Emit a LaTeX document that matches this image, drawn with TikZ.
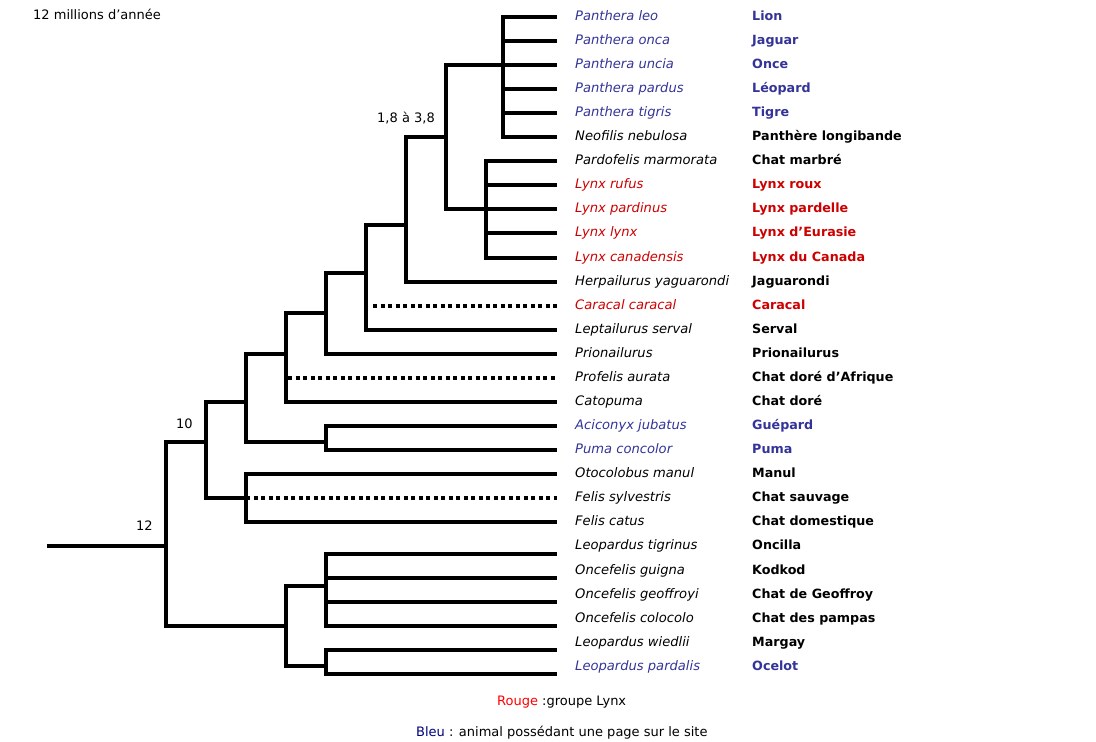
\documentclass[tikz,border=0pt]{standalone}
\usepackage{fontspec}
\setmainfont{DejaVu Sans}
\usepackage{xcolor}
\definecolor{siteblue}{HTML}{333399}
\definecolor{lynxred}{HTML}{CC0000}
\definecolor{legendred}{HTML}{FF0000}
\definecolor{legendblue}{HTML}{000080}

\begin{document}
\begin{tikzpicture}[x=1pt, y=-1pt,
    every node/.style={inner sep=0pt, font=\fontsize{13}{15}\selectfont},
    latin/.style={anchor=base west, font=\fontsize{13.1}{15}\selectfont\itshape},
    common/.style={anchor=base west, font=\fontsize{12.7}{15}\selectfont\bfseries},
    branch/.style={line width=4pt},
    dots/.style={line width=4pt, dash pattern=on 4pt off 3.5pt}]
     \useasboundingbox (0,0) rectangle (1096,742);

     % leaf tips
     \coordinate (t0) at (557,17);
     \coordinate (t1) at (557,41);
     \coordinate (t2) at (557,65);
     \coordinate (t3) at (557,89);
     \coordinate (t4) at (557,113);
     \coordinate (t5) at (557,137);
     \coordinate (t6) at (557,161);
     \coordinate (t7) at (557,185);
     \coordinate (t8) at (557,209);
     \coordinate (t9) at (557,233);
     \coordinate (t10) at (557,257.5);
     \coordinate (t11) at (557,281.5);
     \coordinate (t12) at (557,305.5);
     \coordinate (t13) at (557,329.5);
     \coordinate (t14) at (557,353.5);
     \coordinate (t15) at (557,377.5);
     \coordinate (t16) at (557,402);
     \coordinate (t17) at (557,426);
     \coordinate (t18) at (557,450);
     \coordinate (t19) at (557,474);
     \coordinate (t20) at (557,498);
     \coordinate (t21) at (557,522);
     \coordinate (t22) at (557,554);
     \coordinate (t23) at (557,578);
     \coordinate (t24) at (557,602);
     \coordinate (t25) at (557,626);
     \coordinate (t26) at (557,650);
     \coordinate (t27) at (557,674);

     % latin names
     \node[latin, text=siteblue] (pleo) at (575,20.5) {Panthera leo};
     \node[latin, text=siteblue] (ponca) at (575,44.5) {Panthera onca};
     \node[latin, text=siteblue] (puncia) at (575,68.5) {Panthera uncia};
     \node[latin, text=siteblue] (ppardus) at (575,92.5) {Panthera pardus};
     \node[latin, text=siteblue] (ptigris) at (575,116.5) {Panthera tigris};
     \node[latin] (nnebulosa) at (575,140.5) {Neofilis nebulosa};
     \node[latin] (pmarmorata) at (575,164.5) {Pardofelis marmorata};
     \node[latin, text=lynxred] (lrufus) at (575,188.5) {Lynx rufus};
     \node[latin, text=lynxred] (lpardinus) at (575,212.5) {Lynx pardinus};
     \node[latin, text=lynxred] (llynx) at (575,236.5) {Lynx lynx};
     \node[latin, text=lynxred] (lcanadensis) at (575,261) {Lynx canadensis};
     \node[latin] (hyaguarondi) at (575,285) {Herpailurus yaguarondi};
     \node[latin, text=lynxred] (ccaracal) at (575,309) {Caracal caracal};
     \node[latin] (lserval) at (575,333) {Leptailurus serval};
     \node[latin] (prionailurus) at (575,357) {Prionailurus};
     \node[latin] (paurata) at (575,381) {Profelis aurata};
     \node[latin] (catopuma) at (575,405.5) {Catopuma};
     \node[latin, text=siteblue] (ajubatus) at (575,429.5) {Aciconyx jubatus};
     \node[latin, text=siteblue] (pconcolor) at (575,453.5) {Puma concolor};
     \node[latin] (omanul) at (575,477.5) {Otocolobus manul};
     \node[latin] (fsylvestris) at (575,501.5) {Felis sylvestris};
     \node[latin] (fcatus) at (575,525.5) {Felis catus};
     \node[latin] (ltigrinus) at (575,549.5) {Leopardus tigrinus};
     \node[latin] (oguigna) at (575,574.5) {Oncefelis guigna};
     \node[latin] (ogeoffroyi) at (575,598.5) {Oncefelis geoffroyi};
     \node[latin] (ocolocolo) at (575,622.5) {Oncefelis colocolo};
     \node[latin] (lwiedlii) at (575,646.5) {Leopardus wiedlii};
     \node[latin, text=siteblue] (lpardalis) at (575,670.5) {Leopardus pardalis};

     % common names
     \node[common, text=siteblue] (lion) at (752,20.5) {Lion};
     \node[common, text=siteblue] (jaguar) at (752,44.5) {Jaguar};
     \node[common, text=siteblue] (once) at (752,68.5) {Once};
     \node[common, text=siteblue] (leopard) at (752,92.5) {Léopard};
     \node[common, text=siteblue] (tigre) at (752,116.5) {Tigre};
     \node[common] (longibande) at (752,140.5) {Panthère longibande};
     \node[common] (marbre) at (752,164.5) {Chat marbré};
     \node[common, text=lynxred] (roux) at (752,188.5) {Lynx roux};
     \node[common, text=lynxred] (pardelle) at (752,212.5) {Lynx pardelle};
     \node[common, text=lynxred] (eurasie) at (752,236.5) {Lynx d’Eurasie};
     \node[common, text=lynxred] (canada) at (752,261) {Lynx du Canada};
     \node[common] (jaguarondi) at (752,285) {Jaguarondi};
     \node[common, text=lynxred] (caracal) at (752,309) {Caracal};
     \node[common] (serval) at (752,333) {Serval};
     \node[common] (prionailurus2) at (752,357) {Prionailurus};
     \node[common] (afrique) at (752,381) {Chat doré d’Afrique};
     \node[common] (dore) at (752,405.5) {Chat doré};
     \node[common, text=siteblue] (guepard) at (752,429.5) {Guépard};
     \node[common, text=siteblue] (puma) at (752,453.5) {Puma};
     \node[common] (manul) at (752,477.5) {Manul};
     \node[common] (sauvage) at (752,501.5) {Chat sauvage};
     \node[common] (domestique) at (752,525.5) {Chat domestique};
     \node[common] (oncilla) at (752,549.5) {Oncilla};
     \node[common] (kodkod) at (752,574.5) {Kodkod};
     \node[common] (geoffroy) at (752,598.5) {Chat de Geoffroy};
     \node[common] (pampas) at (752,622.5) {Chat des pampas};
     \node[common] (margay) at (752,646.5) {Margay};
     \node[common, text=siteblue] (ocelot) at (752,670.5) {Ocelot};

     % branching points
     \coordinate (pan) at (503,65);
     \coordinate (lyn) at (486,209);
     \coordinate (panlyn) at (446,137);
     \coordinate (n18) at (406,225);
     \coordinate (n3) at (366,273);
     \coordinate (c12) at (373,305.5);
     \coordinate (n4) at (326,313);
     \coordinate (n5) at (286,353.5);
     \coordinate (c15) at (288,377.5);
     \coordinate (chee) at (326,442);
     \coordinate (n6) at (246,402);
     \coordinate (fel) at (246,498);
     \coordinate (n10) at (206,442);
     \coordinate (leoa) at (326,586);
     \coordinate (leob) at (326,666);
     \coordinate (leo) at (286,626);
     \coordinate (n12) at (166,546);
     \coordinate (root) at (47,546);

     \draw[branch] (pan) |- (t0) (pan) |- (t1) (pan) |- (t2) (pan) |- (t3) (pan) |- (t4) (pan) |- (t5);
     \draw[branch] (lyn) |- (t6) (lyn) |- (t7) (lyn) |- (t8) (lyn) |- (t9) (lyn) |- (t10);
     \draw[branch] (panlyn) |- (pan) (panlyn) |- (lyn);
     \draw[branch] (n18) |- (panlyn) (n18) |- (t11);
     \draw[branch] (n3) |- (n18) (n3) |- (t13);
     \draw[dots] (c12) -- (t12);
     \draw[branch] (n4) |- (n3) (n4) |- (t14);
     \draw[branch] (n5) |- (n4) (n5) |- (t16);
     \draw[dots] (c15) -- (t15);
     \draw[branch] (chee) |- (t17) (chee) |- (t18);
     \draw[branch] (n6) |- (n5) (n6) |- (chee);
     \draw[branch] (fel) |- (t19) (fel) |- (t21);
     \draw[dots] (fel) -- (t20);
     \draw[branch] (n10) |- (n6) (n10) |- (fel);
     \draw[branch] (leoa) |- (t22) (leoa) |- (t23) (leoa) |- (t24) (leoa) |- (t25);
     \draw[branch] (leob) |- (t26) (leob) |- (t27);
     \draw[branch] (leo) |- (leoa) (leo) |- (leob);
     \draw[branch] (n12) |- (n10) (n12) |- (leo);
     \draw[branch] (root) -- (n12);

     % ages and legend
     \node[anchor=base west] (age) at (33,19) {12 millions d’année};
     \node[anchor=base] (a18) at (406,122.5) {1,8 à 3,8};
     \node[anchor=base] (a10) at (184.5,428) {10};
     \node[anchor=base] (a12) at (144.5,530) {12};
     \node[anchor=base west] (rouge) at (497,705.5) {\textcolor{legendred}{Rouge} :groupe Lynx};
     \node[anchor=base west] (bleu) at (416,736) {\textcolor{legendblue}{Bleu} : animal possédant une page sur le site};
 \end{tikzpicture}
\end{document}
